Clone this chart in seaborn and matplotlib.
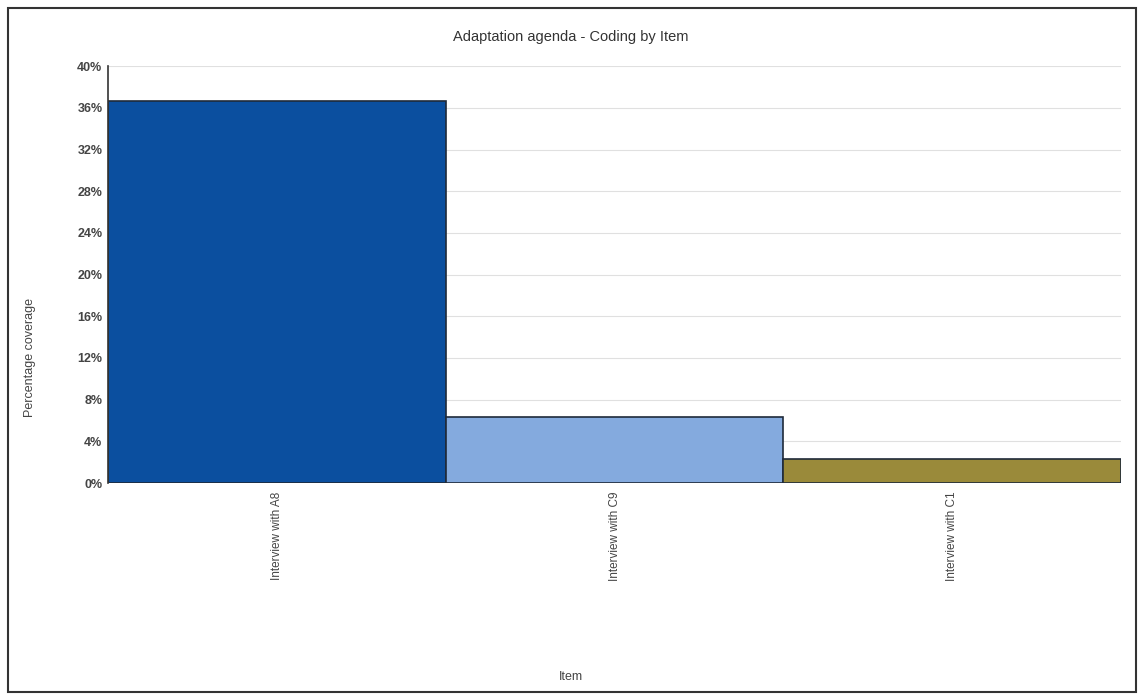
import matplotlib
matplotlib.use("Agg")
import matplotlib.pyplot as plt
import matplotlib.patches as mpatches
from matplotlib.ticker import FuncFormatter, MultipleLocator
import seaborn as sns
import pandas as pd

items = ["Interview with A8", "Interview with C9", "Interview with C1"]
coverage = [36.7, 6.3, 2.3]
colors = ["#0b4f9f", "#84aade", "#9a8a3a"]

df = pd.DataFrame({"Item": items, "Coverage": coverage})

sns.set_theme(style="white")
plt.rcParams["font.family"] = ["Liberation Sans", "DejaVu Sans"]

fig = plt.figure(figsize=(11.42, 6.96), dpi=100)
ax = fig.add_axes([0.0946, 0.306, 0.887, 0.599])

sns.barplot(data=df, x="Item", y="Coverage", hue="Item", palette=colors,
            saturation=1, width=1.0, edgecolor="#1f2a3a", linewidth=1.2,
            legend=False, ax=ax)

ax.set_ylim(0, 40)
ax.set_xlim(-0.5, 2.5)
ax.yaxis.set_major_locator(MultipleLocator(4))
ax.yaxis.set_major_formatter(FuncFormatter(lambda v, p: f"{v:.0f}%"))
ax.grid(axis="y", color="#e0e0e0", linewidth=0.8)
ax.set_axisbelow(True)

for s in ["top", "right", "bottom"]:
    ax.spines[s].set_visible(False)
ax.spines["left"].set_color("#333333")
ax.spines["left"].set_linewidth(1.2)

ax.tick_params(axis="y", labelsize=9, colors="#444444", length=0, pad=4)
for t in ax.get_yticklabels():
    t.set_fontweight("bold")
ax.tick_params(axis="x", labelsize=8.5, colors="#444444", length=0, pad=6)
plt.setp(ax.get_xticklabels(), rotation=90)

ax.set_xlabel("")
ax.set_ylabel("Percentage coverage", fontsize=9, color="#444444")
ax.yaxis.set_label_coords(-0.071, 0.30)
fig.text(0.5, 0.028, "Item", ha="center", va="center", fontsize=9, color="#444444")
fig.text(0.5, 0.947, "Adaptation agenda - Coding by Item", ha="center", va="center",
         fontsize=10.5, color="#333333")

# outer frame around the chart area
fig.patches.append(mpatches.Rectangle((0.007, 0.006), 0.988, 0.983, transform=fig.transFigure,
                                      fill=False, edgecolor="#333333", linewidth=1.5))

fig.savefig("out.png", dpi=100)
